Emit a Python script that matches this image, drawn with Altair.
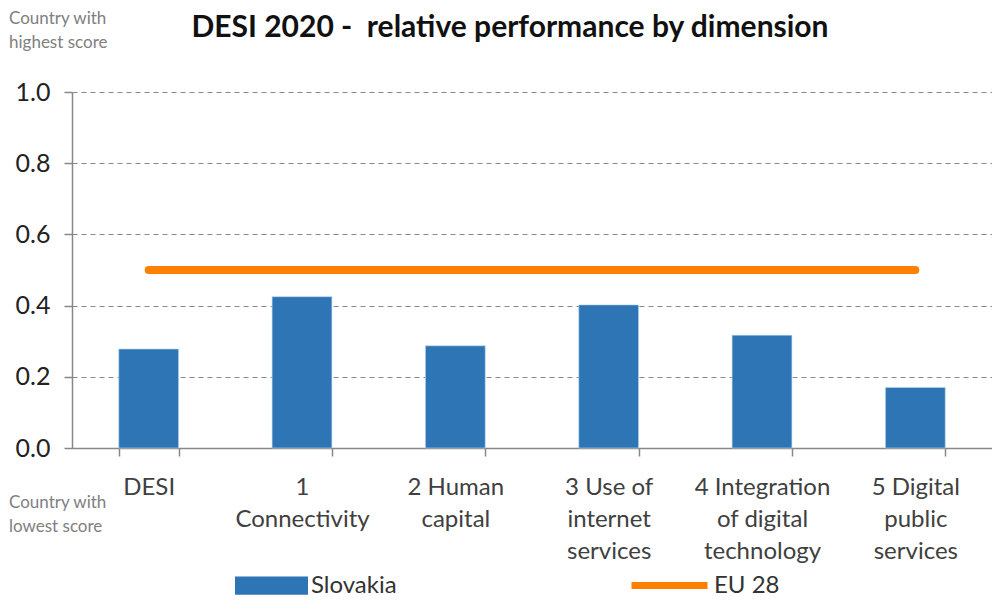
import altair as alt
import pandas as pd

categories = ["DESI", "1|Connectivity", "2 Human|capital", "3 Use of|internet|services",
              "4 Integration|of digital|technology", "5 Digital|public|services"]
slovakia = [0.278, 0.425, 0.287, 0.402, 0.317, 0.170]
eu28 = [0.5, 0.5, 0.5, 0.5, 0.5, 0.5]

BLUE = "#2E75B6"
ORANGE = "#FF8000"
FONT = "Lato"

df = pd.DataFrame({
    "dim": categories,
    "Slovakia": slovakia,
    "EU": eu28,
    "s1": ["Slovakia"] * len(categories),
    "s2": ["EU 28"] * len(categories),
})

xenc = alt.X(
    "dim:N",
    sort=categories,
    scale=alt.Scale(domain=categories, paddingInner=0.61, paddingOuter=0.305),
    axis=alt.Axis(
        title=None, labelAngle=0, labelExpr="split(datum.label, '|')",
        labelFontSize=24, labelColor="#404040", labelFont=FONT,
        labelLineHeight=32, labelPadding=19, labelBaseline="top",
        tickBand="extent", tickSize=8, tickColor="#888888", tickWidth=1.5,
        domainColor="#888888", domainWidth=1.5, grid=False,
    ),
)

yscale = alt.Scale(domain=[0, 1], nice=False, zero=True)

bars = alt.Chart(df).mark_bar(stroke="#BDD7EE", strokeWidth=0.6).encode(
    x=xenc,
    y=alt.Y(
        "Slovakia:Q", scale=yscale,
        axis=alt.Axis(
            title=None, values=[0, 0.2, 0.4, 0.6, 0.8, 1.0], format=".1f",
            labelFontSize=25, labelColor="#222222", labelFont=FONT, labelPadding=14,
            tickSize=8, tickColor="#888888", tickWidth=1.5,
            domainColor="#888888", domainWidth=1.5,
            grid=True, gridDash=[5, 4], gridColor="#888888", gridWidth=1.2,
        ),
    ),
    fill=alt.Fill(
        "s1:N", scale=alt.Scale(domain=["Slovakia"], range=[BLUE]),
        legend=alt.Legend(
            title=None, orient="none", legendX=163, legendY=457,
            symbolType="M-1,-0.25H1V0.25H-1Z", symbolSize=5329,
            symbolStrokeWidth=0, labelFontSize=24, labelFont=FONT,
            labelColor="#333333", labelOffset=3,
        ),
    ),
)

line = alt.Chart(df).mark_line(strokeWidth=8, strokeCap="round").encode(
    x=alt.X("dim:N", sort=categories),
    y=alt.Y("EU:Q", scale=yscale),
    stroke=alt.Stroke(
        "s2:N", scale=alt.Scale(domain=["EU 28"], range=[ORANGE]),
        legend=alt.Legend(
            title=None, orient="none", legendX=556, legendY=452,
            symbolType="M-1,0H1", symbolSize=5776, symbolStrokeWidth=7,
            labelFontSize=24, labelFont=FONT, labelColor="#333333", labelOffset=3,
        ),
    ),
)

title_df = pd.DataFrame({"t": ["DESI 2020 -\u00a0 relative performance by dimension"]})
note_top = pd.DataFrame({"t": ["Country with\nhighest score"]})
note_bot = pd.DataFrame({"t": ["Country with\nlowest score"]})

txt_title = alt.Chart(title_df).mark_text(
    align="center", baseline="middle", fontSize=30, font=FONT,
    fontWeight="bold", color="#111111",
).encode(x=alt.value(438), y=alt.value(-64), text="t:N")

txt_top = alt.Chart(note_top).mark_text(
    align="left", baseline="middle", lineBreak="\n", lineHeight=24,
    fontSize=17, font=FONT, color="#808080",
).encode(x=alt.value(-63), y=alt.value(-73), text="t:N")

txt_bot = alt.Chart(note_bot).mark_text(
    align="left", baseline="middle", lineBreak="\n", lineHeight=24,
    fontSize=17, font=FONT, color="#808080",
).encode(x=alt.value(-63), y=alt.value(411), text="t:N")

chart = alt.layer(bars, line, txt_title, txt_top, txt_bot).resolve_legend(
    fill="independent", stroke="independent"
).properties(
    width=920, height=356,
    autosize=alt.AutoSizeParams(type="none"),
    padding={"left": 64, "top": 84, "right": 0, "bottom": 151},
).configure_view(stroke=None)

chart.save("out.html", embed_options={"renderer": "svg", "actions": False})
